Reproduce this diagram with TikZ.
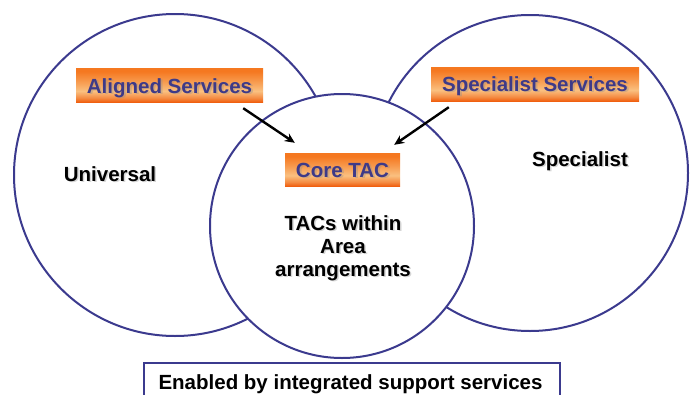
\documentclass[tikz,border=0pt]{standalone}
\usepackage{fontspec}
\setmainfont{Liberation Sans}
\usetikzlibrary{calc,arrows.meta}

\definecolor{ringblue}{HTML}{3B3A8E}
\definecolor{tagtext}{HTML}{3E3A88}
\definecolor{tagtop}{HTML}{F57820}
\definecolor{tagmid}{HTML}{FAC080}
\definecolor{tagbot}{HTML}{F06010}

% orange band: dark at the bottom edge, pale just below the middle, orange on top
\pgfdeclareverticalshading{tagshade}{100bp}{%
  color(0bp)=(tagbot); color(25bp)=(tagbot); color(31bp)=(tagbot!55!tagmid);
  color(41bp)=(tagmid); color(56bp)=(tagmid!45!tagtop); color(70bp)=(tagtop);
  color(75bp)=(tagtop); color(100bp)=(tagtop)}

\begin{document}
\begin{tikzpicture}[x=1pt,y=-1pt,
  ring/.style={draw=ringblue, line width=2pt, fill=white},
  bigfont/.style={font=\bfseries\fontsize{20.5}{24}\selectfont},
  tagbox/.style={shading=tagshade, inner sep=0pt},
  tagword/.style={bigfont, text=tagtext, anchor=base, inner sep=0pt},
  plainword/.style={bigfont, text=black, anchor=base, inner sep=0pt},
  softshadow/.style={bigfont, text=black!45, opacity=0.35, anchor=base, inner sep=0pt},
  pointer/.style={line width=2.4pt, -{Stealth[length=10pt,width=9pt]}},
  footbox/.style={draw=ringblue, line width=2pt, fill=white,
    minimum width=416, minimum height=40, inner sep=0pt}]

\clip (0,0) rectangle (691,394);
\fill[white] (0,0) rectangle (691,394);

% outer circles, then the central one on top
\draw[ring] (175,175) circle[radius=161];
\draw[ring] (530,173) circle[radius=158];
\draw[ring] (342,226) circle[radius=132];

% orange service tags, each word with a soft drop shadow
\node[tagbox, minimum width=187, minimum height=34] (alignedBox) at (169.5,85) {};
\node[softshadow] (alignedSh) at (171.5,94.5) {Aligned Services};
\node[tagword] (aligned) at (169.5,93) {Aligned Services};

\node[tagbox, minimum width=208, minimum height=34] (specBox) at (535,84) {};
\node[softshadow] (specSh) at (537,92.5) {Specialist Services};
\node[tagword] (spec) at (535,91) {Specialist Services};

\node[tagbox, minimum width=115, minimum height=33] (coreBox) at (342.5,169.5) {};
\node[softshadow] (coreSh) at (344.5,178.5) {Core TAC};
\node[tagword] (core) at (342.5,177) {Core TAC};

% plain labels
\node[softshadow] (univSh) at (111.5,182.5) {Universal};
\node[plainword] (univ) at (110,181) {Universal};
\node[softshadow] (specialSh) at (581.5,167.5) {Specialist};
\node[plainword] (special) at (580,166) {Specialist};

\node[softshadow] (tac1Sh) at (344.5,231.5) {TACs within};
\node[plainword] (tac1) at (343,230) {TACs within};
\node[softshadow] (tac2Sh) at (344.5,254.5) {Area};
\node[plainword] (tac2) at (343,253) {Area};
\node[softshadow] (tac3Sh) at (344.5,277.5) {arrangements};
\node[plainword] (tac3) at (343,276) {arrangements};

% arrows into the core
\coordinate (alignedTail) at ($(alignedBox.south east)+(-20,6)$);
\coordinate (alignedHead) at ($(coreBox.north west)+(10,-10)$);
\coordinate (specTail) at ($(specBox.south west)+(18,6)$);
\coordinate (specHead) at ($(coreBox.north east)+(-6,-8)$);
\draw[pointer] (alignedTail) -- (alignedHead);
\draw[pointer] (specTail) -- (specHead);

% footer band
\node[footbox] (footer) at (352,383) {};
\node[plainword] (footText) at (350.5,389) {Enabled by integrated support services};

\end{tikzpicture}
\end{document}
